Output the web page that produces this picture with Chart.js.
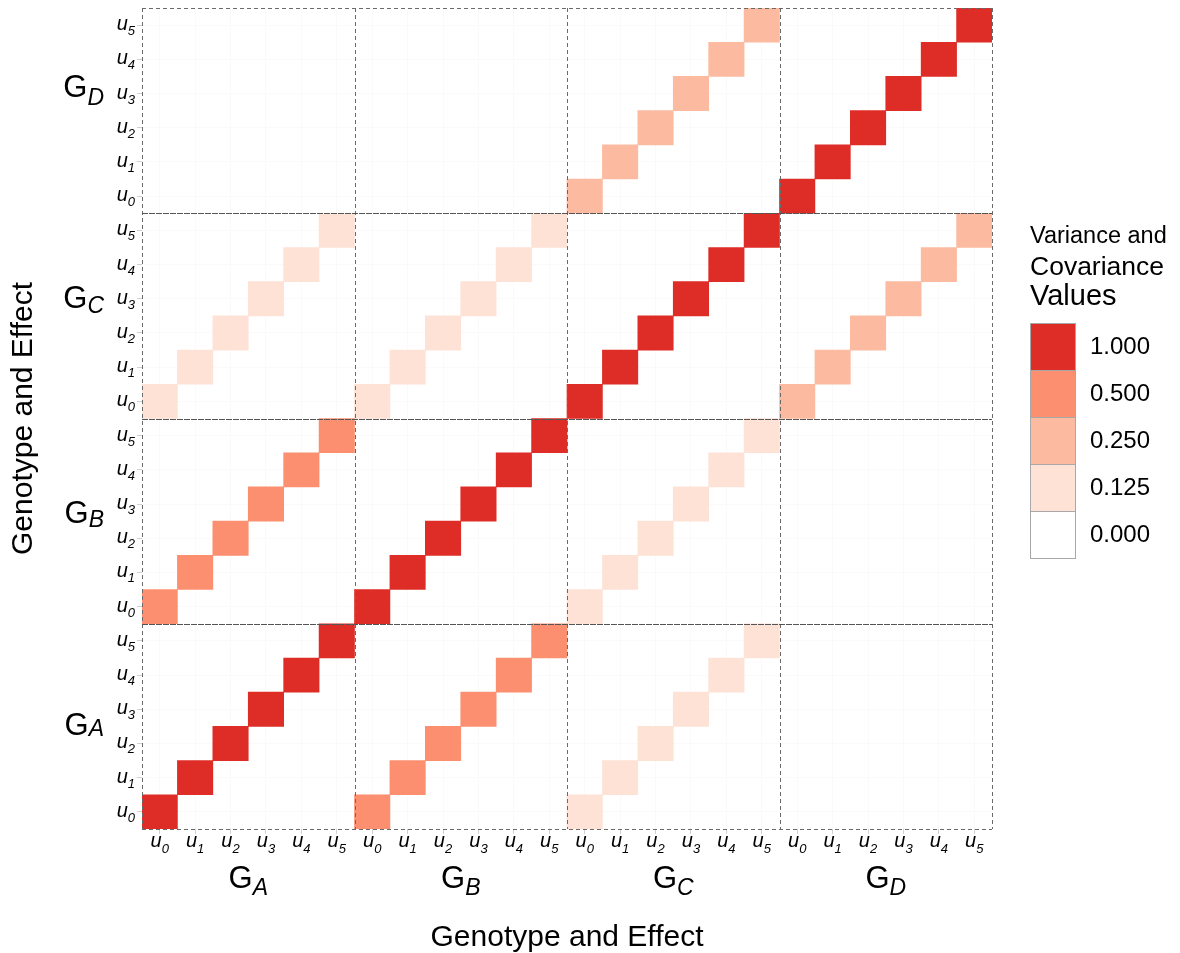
<!DOCTYPE html>
<html>
<head>
<meta charset="utf-8">
<script src="https://cdn.jsdelivr.net/npm/chart.js@4.4.0/dist/chart.umd.min.js"></script>
<style>
  html, body { margin: 0; padding: 0; background: #fff; }
  #wrap { width: 1180px; height: 953px; position: relative; }
</style>
</head>
<body>
<div id="wrap"><canvas id="chart"></canvas></div>
<script>
// genotypes and effects along both axes
const genotypes = ['A', 'B', 'C', 'D'];
const effects = ['0', '1', '2', '3', '4', '5'];

// covariance between genotypes (row = y genotype, column = x genotype)
const covA = [1.000, 0.500, 0.125, 0.000];
const covB = [0.500, 1.000, 0.125, 0.000];
const covC = [0.125, 0.125, 1.000, 0.250];
const covD = [0.000, 0.000, 0.250, 1.000];
const covRows = [covA, covB, covC, covD];

// legend
const legendValues = [1.000, 0.500, 0.250, 0.125, 0.000];
const legendColors = ['#de2d26', '#fc8f6f', '#fcbba1', '#fee2d6', '#ffffff'];

const FONT = '"Liberation Sans", Arial, Helvetica, sans-serif';

const colorFor = (v) => legendColors[legendValues.indexOf(v)] || '#ffffff';

// one label per column: genotype + effect
const xLabels = [];
genotypes.forEach((g) => effects.forEach((e) => xLabels.push(g + e)));

// one floating-bar dataset per row of the matrix
const datasets = [];
genotypes.forEach((gy, gi) => {
    effects.forEach((ey, ei) => {
        const row = gi * effects.length + ei;
        const data = [];
        const colors = [];
        genotypes.forEach((gx, gj) => {
            effects.forEach((ex, ej) => {
                const v = ei === ej ? covRows[gi][gj] : 0;
                data.push(v > 0 ? [row, row + 1] : null);
                colors.push(colorFor(v));
            });
        });
        datasets.push({
            label: 'G' + gy + ' u' + ey,
            data: data,
            backgroundColor: colors,
            borderWidth: 0,
            barPercentage: 1,
            categoryPercentage: 1,
            grouped: false,
        });
    });
});

// draw "main" with a smaller italic subscript
function drawSub(ctx, x, base, main, sub, mainFont, subFont, drop, align) {
    ctx.font = mainFont;
    const w1 = ctx.measureText(main).width;
    ctx.font = subFont;
    const w2 = ctx.measureText(sub).width;
    const total = w1 + w2;
    let left = x;
    if (align === 'center') left = x - total / 2;
    if (align === 'right') left = x - total;
    ctx.textAlign = 'left';
    ctx.textBaseline = 'alphabetic';
    ctx.font = mainFont;
    ctx.fillText(main, left, base);
    ctx.font = subFont;
    ctx.fillText(sub, left + w1, base + drop);
}

const facetDecor = {
    id: 'facetDecor',
    afterDatasetsDraw(chart) {
        const { ctx, chartArea: a } = chart;
        const xs = chart.scales.x;
        const ys = chart.scales.y;
        ctx.save();
        ctx.strokeStyle = '#6a6a6a';
        ctx.lineWidth = 1;
        ctx.setLineDash([4, 3]);
        for (let k = 0; k <= genotypes.length; k++) {
            const x = Math.round(xs.getPixelForDecimal(k / genotypes.length)) + 0.5;
            ctx.beginPath();
            ctx.moveTo(x, a.top);
            ctx.lineTo(x, a.bottom);
            ctx.stroke();
        }
        for (let k = 0; k <= genotypes.length; k++) {
            const edge = k === 0 || k === genotypes.length;
            const y = Math.round(ys.getPixelForValue(k * effects.length)) + 0.5;
            ctx.strokeStyle = edge ? '#6a6a6a' : '#555';
            ctx.setLineDash(edge ? [4, 3] : [6, 1]);
            ctx.beginPath();
            ctx.moveTo(a.left, y);
            ctx.lineTo(a.right, y);
            ctx.stroke();
        }
        ctx.restore();
    },
    afterDraw(chart) {
        const { ctx, chartArea: a } = chart;
        const xs = chart.scales.x;
        const ys = chart.scales.y;
        const uFont = 'italic 20px ' + FONT;
        const uSub = 'italic 13px ' + FONT;
        ctx.save();
        ctx.fillStyle = '#000';

        // effect tick labels
        xLabels.forEach((lab, i) => {
            const x = xs.getPixelForValue(i);
            drawSub(ctx, x, a.bottom + 18, 'u', lab.slice(1), uFont, uSub, 6, 'center');
        });
        xLabels.forEach((lab, r) => {
            const y = ys.getPixelForValue(r + 0.5);
            drawSub(ctx, a.left - 7, y + 5, 'u', lab.slice(1), uFont, uSub, 5, 'right');
        });

        // genotype labels
        const gFont = '31px ' + FONT;
        const gSub = 'italic 23px ' + FONT;
        genotypes.forEach((g, k) => {
            const x = xs.getPixelForDecimal((k + 0.5) / genotypes.length);
            drawSub(ctx, x, a.bottom + 59, 'G', g, gFont, gSub, 7, 'center');
        });
        const leftBase = [735, 523, 308, 97];
        const leftDrop = [1, 4, 5, 8];
        genotypes.forEach((g, k) => {
            drawSub(ctx, 104, leftBase[k], 'G', g, gFont, gSub, leftDrop[k], 'right');
        });

        // axis titles
        ctx.font = '30px ' + FONT;
        ctx.textAlign = 'center';
        ctx.textBaseline = 'alphabetic';
        ctx.fillText('Genotype and Effect', (a.left + a.right) / 2, 946);
        ctx.save();
        ctx.translate(32, (a.top + a.bottom) / 2);
        ctx.rotate(-Math.PI / 2);
        ctx.fillText('Genotype and Effect', 0, 0);
        ctx.restore();

        // legend
        ctx.textAlign = 'left';
        ctx.font = '23.5px ' + FONT;
        ctx.fillText('Variance and', 1030, 243);
        ctx.font = '26.5px ' + FONT;
        ctx.fillText('Covariance', 1030, 275);
        ctx.font = '29px ' + FONT;
        ctx.fillText('Values', 1030, 305);
        const boxH = 47;
        legendValues.forEach((v, i) => {
            const top = 323 + i * boxH;
            ctx.fillStyle = legendColors[i];
            ctx.fillRect(1030, top, 45, boxH);
            ctx.strokeStyle = '#a8a8a8';
            ctx.lineWidth = 1;
            ctx.strokeRect(1030.5, top + 0.5, 45, boxH);
            ctx.fillStyle = '#000';
            ctx.font = '24px ' + FONT;
            ctx.textBaseline = 'middle';
            ctx.fillText(v.toFixed(3), 1090, top + boxH / 2 + 1);
        });
        ctx.restore();
    },
};

new Chart(document.getElementById('chart').getContext('2d'), {
    type: 'bar',
    data: { labels: xLabels, datasets: datasets },
    plugins: [facetDecor],
    options: {
        responsive: true,
        maintainAspectRatio: false,
        animation: false,
        layout: { padding: { top: 8, right: 188, bottom: 0, left: 0 } },
        plugins: {
            legend: { display: false },
            tooltip: { enabled: false },
        },
        scales: {
            x: {
                type: 'category',
                offset: true,
                grid: { offset: false, color: '#fafafa', tickColor: '#d0d0d0', tickLength: 5 },
                border: { display: false },
                ticks: { display: false },
                afterFit: (s) => { s.height = 124; },
            },
            y: {
                type: 'linear',
                min: 0,
                max: xLabels.length,
                grid: { color: '#fafafa', tickColor: '#d0d0d0', tickLength: 5 },
                border: { display: false },
                ticks: { display: false },
                afterBuildTicks: (s) => {
                    s.ticks = xLabels.map((_, r) => ({ value: r + 0.5 }));
                },
                afterFit: (s) => { s.width = 142; },
            },
        },
    },
});
</script>
</body>
</html>
